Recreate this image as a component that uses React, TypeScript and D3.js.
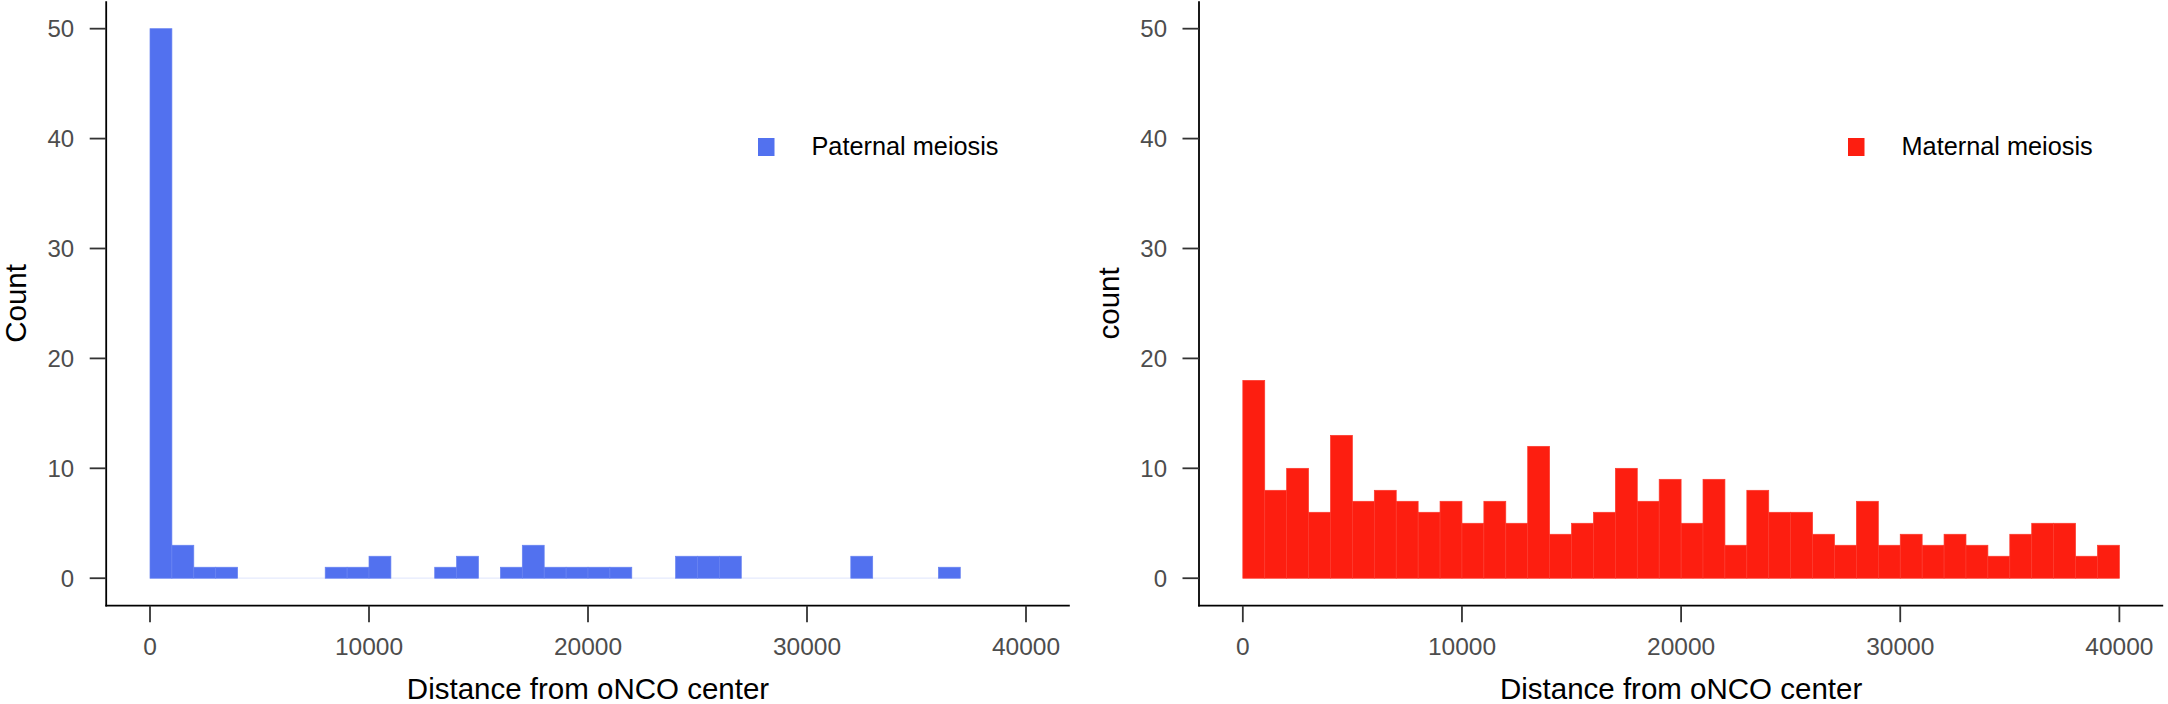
import React from "react";
import * as d3 from "d3";

// Bin edges are every 1000 units, starting at 0
const binWidth = 1000;
const paternalCounts = [50, 3, 1, 1, 0, 0, 0, 0, 1, 1, 2, 0, 0, 1, 2, 0, 1, 3, 1, 1, 1, 1, 0, 0, 2, 2, 2, 0, 0, 0, 0, 0, 2, 0, 0, 0, 1];
const maternalCounts = [18, 8, 10, 6, 13, 7, 8, 7, 6, 7, 5, 7, 5, 12, 4, 5, 6, 10, 7, 9, 5, 9, 3, 8, 6, 6, 4, 3, 7, 3, 4, 3, 4, 3, 2, 4, 5, 5, 2, 3];
const xTicks = [0, 10000, 20000, 30000, 40000];
const yTicks = [0, 10, 20, 30, 40, 50];
const xLabel = "Distance from oNCO center";

const W = 2168;
const H = 704;
const FONT = "'Liberation Sans', Arial, Helvetica, sans-serif";

type PanelProps = {
  left: number;
  right: number;
  counts: number[];
  color: string;
  yTitle: string;
  legend: string;
  legendX: number;
};

function Panel({ left, right, counts, color, yTitle, legend, legendX }: PanelProps) {
  const top = 1.2;
  const bottom = 605.7;
  const x = d3.scaleLinear().domain([-2000, 42000]).range([left, right]);
  const y = d3.scaleLinear().domain([-2.5, 52.5]).range([bottom, top]);
  const sep = d3.interpolateRgb(color, "#ffffff")(0.12);
  const faint = d3.interpolateRgb(color, "#ffffff")(0.85);
  const bins = counts.map((c, i) => ({ x0: i * binWidth, x1: (i + 1) * binWidth, c }));
  const tickLen = 16.5;
  const midX = (left + right) / 2;
  const midY = (top + bottom) / 2;
  return (
    <g>
      {/* faint outline along the baseline, visible for empty bins */}
      <line
        x1={x(0)}
        x2={x(counts.length * binWidth)}
        y1={y(0)}
        y2={y(0)}
        stroke={faint}
        strokeWidth={1.2}
      />
      {bins.map((b, i) =>
        b.c > 0 ? (
          <rect
            key={i}
            x={x(b.x0)}
            y={y(b.c)}
            width={x(b.x1) - x(b.x0)}
            height={y(0) - y(b.c)}
            fill={color}
            stroke={sep}
            strokeWidth={0.7}
          />
        ) : null
      )}
      {/* axes */}
      <line x1={left} x2={left} y1={top} y2={bottom + 0.8} stroke="#000" strokeWidth={1.8} />
      <line x1={left - 0.8} x2={right} y1={bottom} y2={bottom} stroke="#000" strokeWidth={1.8} />
      {yTicks.map((t) => (
        <g key={"y" + t}>
          <line x1={left - tickLen} x2={left} y1={y(t)} y2={y(t)} stroke="#333" strokeWidth={1.8} />
          <text
            x={left - 32}
            y={y(t)}
            dy="0.36em"
            textAnchor="end"
            fontFamily={FONT}
            fontSize={24}
            fill="#4d4d4d"
          >
            {t}
          </text>
        </g>
      ))}
      {xTicks.map((t) => (
        <g key={"x" + t}>
          <line x1={x(t)} x2={x(t)} y1={bottom} y2={bottom + tickLen} stroke="#333" strokeWidth={1.8} />
          <text x={x(t)} y={655} textAnchor="middle" fontFamily={FONT} fontSize={24.5} fill="#4d4d4d">
            {t}
          </text>
        </g>
      ))}
      <text x={midX} y={699} textAnchor="middle" fontFamily={FONT} fontSize={29.5} fill="#000">
        {xLabel}
      </text>
      <text
        transform={`translate(${left - 80},${midY}) rotate(-90)`}
        textAnchor="middle"
        fontFamily={FONT}
        fontSize={29.5}
        fill="#000"
      >
        {yTitle}
      </text>
      {/* legend */}
      <rect x={legendX} y={138} width={16.5} height={18} fill={color} />
      <text x={legendX + 53.5} y={155} fontFamily={FONT} fontSize={25.3} fill="#000">
        {legend}
      </text>
    </g>
  );
}

export default function App() {
  return (
    <div style={{ position: "absolute", left: 0, top: 0, width: W, height: H, background: "#fff" }}>
      <svg width={W} height={H} viewBox={`0 0 ${W} ${H}`} style={{ display: "block" }}>
        <rect width={W} height={H} fill="#fff" />
        <Panel
          left={106.2}
          right={1069.8}
          counts={paternalCounts}
          color="#5271EF"
          yTitle="Count"
          legend="Paternal meiosis"
          legendX={758}
        />
        <Panel
          left={1199}
          right={2163.2}
          counts={maternalCounts}
          color="#FD1E10"
          yTitle="count"
          legend="Maternal meiosis"
          legendX={1848}
        />
      </svg>
    </div>
  );
}
